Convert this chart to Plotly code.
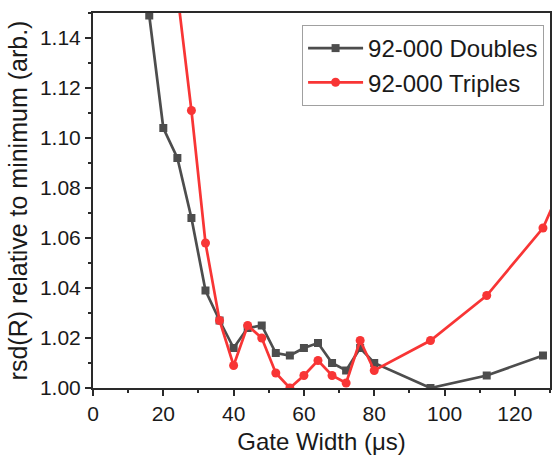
import plotly.graph_objects as go

gate_doubles = [16, 20, 24, 28, 32, 36, 40, 44, 48, 52, 56, 60, 64, 68, 72, 76, 80, 96, 112, 128]
rsd_doubles = [1.149, 1.104, 1.092, 1.068, 1.039, 1.027, 1.016, 1.024, 1.025, 1.014, 1.013, 1.016, 1.018, 1.010, 1.007, 1.016, 1.010, 1.000, 1.005, 1.013]

gate_triples = [24, 28, 32, 36, 40, 44, 48, 52, 56, 60, 64, 68, 72, 76, 80, 96, 112, 128, 144]
rsd_triples = [1.158, 1.111, 1.058, 1.027, 1.009, 1.025, 1.020, 1.006, 1.000, 1.005, 1.011, 1.005, 1.002, 1.019, 1.007, 1.019, 1.037, 1.064, 1.115]

gray = "#4d4d4d"
red = "#f83535"
font = "Liberation Sans, Arial, sans-serif"

fig = go.Figure()
fig.add_trace(go.Scatter(
    x=gate_doubles, y=rsd_doubles, mode="lines+markers", name="92-000 Doubles",
    line=dict(color=gray, width=2.7),
    marker=dict(symbol="square", size=8, color=gray),
))
fig.add_trace(go.Scatter(
    x=gate_triples, y=rsd_triples, mode="lines+markers", name="92-000 Triples",
    line=dict(color=red, width=2.7),
    marker=dict(symbol="circle", size=9, color=red),
))

axis_common = dict(
    showgrid=False, zeroline=False, showline=True, linecolor="#2a2a2a", linewidth=2,
    mirror=True, ticks="outside", ticklen=6, tickwidth=1.5, tickcolor="#2a2a2a",
    tickfont=dict(family=font, size=21, color="#1a1a1a"),
)

fig.update_xaxes(
    range=[0, 130], tick0=0, dtick=20,
    minor=dict(dtick=10, ticks="outside", ticklen=3, tickwidth=1.5, tickcolor="#2a2a2a"),
    title=dict(text="Gate Width (μs)", font=dict(family=font, size=24, color="#1a1a1a"), standoff=9),
    **axis_common,
)
fig.update_yaxes(
    range=[1.0, 1.15], tick0=1.0, dtick=0.02, tickformat=".2f",
    minor=dict(dtick=0.01, ticks="outside", ticklen=3, tickwidth=1.5, tickcolor="#2a2a2a"),
    title=dict(text="rsd(R) relative to minimum (arb.)", font=dict(family=font, size=25, color="#1a1a1a"), standoff=5),
    **axis_common,
)

fig.update_layout(
    width=553, height=460,
    margin=dict(l=93, r=1, t=13, b=72),
    paper_bgcolor="white", plot_bgcolor="white",
    font=dict(family=font, color="#1a1a1a"),
    legend=dict(
        x=0.4575, y=0.968, xanchor="left", yanchor="top",
        bordercolor="#a0a0a0", borderwidth=1, bgcolor="white",
        font=dict(family=font, size=24, color="#1a1a1a"),
        itemwidth=55, tracegroupgap=0,
    ),
    showlegend=True,
)

fig.write_html("out.html")
